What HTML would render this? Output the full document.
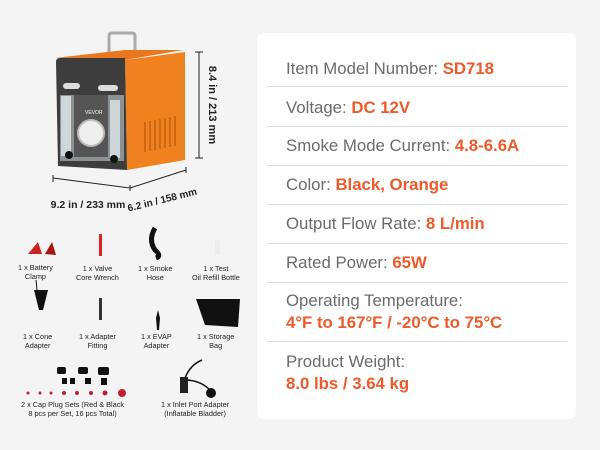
<!DOCTYPE html>
<html><head><meta charset="utf-8"><style>
html,body{margin:0;padding:0}
body{width:600px;height:450px;background:#f4f4f4;position:relative;overflow:hidden;font-family:"Liberation Sans",sans-serif}
.card{position:absolute;left:257px;top:33px;width:319px;height:386px;background:#fff;border-radius:7px}
.row{position:absolute;left:29px;font-size:16.8px;color:#6b6b6b;white-space:nowrap}
.row b{color:#ee5a2a}
.sep{position:absolute;left:10px;width:300px;height:1px;background:#dedede}
.lab{position:absolute;font-size:7.3px;color:#222;text-align:center;line-height:9px;white-space:nowrap}
</style></head><body>
<svg width="250" height="450" style="position:absolute;left:0;top:0">
 <path d="M109 52 L109 36 Q109 33 112 33 L132 33 Q135 33 135 36 L135 52" fill="none" stroke="#aaa" stroke-width="3"/>
 <polygon points="55,58 125,50 183,50 125,60" fill="#e8771e"/>
 <polygon points="125,60 185,52 185,160 127,170" fill="#f0811f"/>
 <g stroke="#b65a10" stroke-width="2" opacity=".6">
  <path d="M145 122 v30 M150 121 v30 M155 120 v30 M160 119 v30 M165 118 v30 M170 117 v30 M175 116 v30"/>
 </g>
 <path d="M56 62 Q56 58 60 58 L125 58 L127 170 L58 166 Z" fill="#3d3d3d"/>
 <rect x="60" y="95" width="64" height="66" fill="#8c9294"/>
 <rect x="61" y="96" width="10" height="60" fill="#cfd6d8"/>
 <rect x="110" y="100" width="10" height="58" fill="#cfd6d8"/>
 <rect x="74" y="95" width="34" height="62" fill="#555"/>
 <circle cx="91" cy="133" r="13" fill="#eee" stroke="#bbb" stroke-width="2"/>
 <circle cx="69" cy="155" r="4" fill="#111"/>
 <circle cx="114" cy="159" r="4" fill="#111"/>
 <rect x="63" y="83" width="17" height="6" rx="3" fill="#ddd"/>
 <rect x="98" y="85" width="20" height="6" rx="3" fill="#ddd"/>
 <text x="85" y="114" font-size="5" fill="#fff" font-family="Liberation Sans">VEVOR</text>
 <g stroke="#222" stroke-width="1" fill="none">
  <path d="M199 52 L199 158 M195 52 L203 52 M195 158 L203 158"/>
  <path d="M53 178 L130 188 L186 170 M53 175 L53 182 M130 185 L130 191 M186 167 L186 173"/>
 </g>
 <text x="209" y="105" font-size="11" font-weight="bold" fill="#222" transform="rotate(90 209 105)" text-anchor="middle" font-family="Liberation Sans">8.4 in / 213 mm</text>
 <text x="88" y="208" font-size="10.5" font-weight="bold" fill="#222" text-anchor="middle" font-family="Liberation Sans">9.2 in / 233 mm</text>
 <text x="163" y="203" font-size="10" font-weight="bold" fill="#222" text-anchor="middle" transform="rotate(-14 163 203)" font-family="Liberation Sans">6.2 in / 158 mm</text>
 <path d="M28 254 L38 242 L42 254 Z" fill="#c22"/><path d="M45 254 L52 242 L56 255 Z" fill="#a11"/>
 <rect x="99" y="234" width="3" height="22" fill="#d22"/>
 <path d="M155 228 Q148 240 155 250 Q162 256 156 258" stroke="#111" stroke-width="5" fill="none"/>
 <rect x="215" y="240" width="5" height="15" fill="#eee"/>
 <path d="M34 290 L48 290 L43 310 L39 310 Z" fill="#111"/><path d="M37 290 L36 280" stroke="#111"/>
 <rect x="99" y="298" width="3" height="22" fill="#333"/>
 <path d="M156 318 L158 310 L160 318 L159 330 L157 330 Z" fill="#111"/>
 <path d="M196 299 L240 299 L238 327 L205 325 Z" fill="#111"/>
 <g fill="#111"><rect x="57" y="367" width="9" height="7" rx="2"/><rect x="78" y="367" width="10" height="7" rx="2"/><rect x="98" y="367" width="11" height="8" rx="2"/>
 <rect x="62" y="378" width="5" height="6"/><rect x="70" y="378" width="5" height="6"/><rect x="85" y="378" width="6" height="6"/><rect x="101" y="378" width="6" height="7"/></g>
 <g fill="#c02030"><circle cx="28" cy="393" r="1.5"/><circle cx="40" cy="393" r="1.5"/><circle cx="51" cy="393" r="1.5"/><circle cx="64" cy="393" r="2"/><circle cx="77" cy="393" r="2"/><circle cx="91" cy="393" r="2"/><circle cx="105" cy="393" r="2.5"/><circle cx="122" cy="393" r="4"/></g>
 <path d="M202 360 Q190 365 185 378 M185 380 Q200 380 210 390" stroke="#111" stroke-width="1.5" fill="none"/>
 <rect x="180" y="377" width="8" height="16" fill="#222"/><circle cx="211" cy="393" r="5" fill="#111"/>
</svg>
<div class="lab" style="left:18px;top:263px">1 x Battery<br>Clamp</div>
<div class="lab" style="left:76px;top:264px">1 x Valve<br>Core Wrench</div>
<div class="lab" style="left:138px;top:264px">1 x Smoke<br>Hose</div>
<div class="lab" style="left:192px;top:264px">1 x Test<br>Oil Refill Bottle</div>
<div class="lab" style="left:23px;top:332px">1 x Cone<br>Adapter</div>
<div class="lab" style="left:79px;top:332px">1 x Adapter<br>Fitting</div>
<div class="lab" style="left:141px;top:332px">1 x EVAP<br>Adapter</div>
<div class="lab" style="left:197px;top:332px">1 x Storage<br>Bag</div>
<div class="lab" style="left:21px;top:400px">2 x Cap Plug Sets (Red &amp; Black<br>8 pcs per Set, 16 pcs Total)</div>
<div class="lab" style="left:161px;top:400px">1 x Inlet Port Adapter<br>(Inflatable Bladder)</div>
<div class="card">
 <div class="row" style="top:26px">Item Model Number: <b>SD718</b></div>
 <div class="sep" style="top:53px"></div>
 <div class="row" style="top:65px">Voltage: <b>DC 12V</b></div>
 <div class="sep" style="top:93px"></div>
 <div class="row" style="top:103px">Smoke Mode Current: <b>4.8-6.6A</b></div>
 <div class="sep" style="top:132px"></div>
 <div class="row" style="top:142px">Color: <b>Black, Orange</b></div>
 <div class="sep" style="top:171px"></div>
 <div class="row" style="top:181px">Output Flow Rate: <b>8 L/min</b></div>
 <div class="sep" style="top:210px"></div>
 <div class="row" style="top:220px">Rated Power: <b>65W</b></div>
 <div class="sep" style="top:249px"></div>
 <div class="row" style="top:258px">Operating Temperature:</div>
 <div class="row" style="top:280px"><b>4°F to 167°F / -20°C to 75°C</b></div>
 <div class="sep" style="top:308px"></div>
 <div class="row" style="top:319px">Product Weight:</div>
 <div class="row" style="top:341px"><b>8.0 lbs / 3.64 kg</b></div>
</div>
</body></html>
